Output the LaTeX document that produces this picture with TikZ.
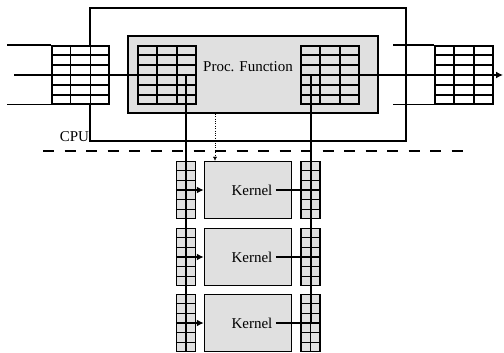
\documentclass[tikz,border=0pt]{standalone}
\usepackage{fontspec}
\setmainfont{Liberation Serif}
\usepackage{tikz}
\usetikzlibrary{arrows.meta,calc}

\definecolor{boxgray}{gray}{0.88}

\tikzset{
  buffer/.style={draw, line width=1.5pt, inner sep=0pt},
  gridline/.style={line width=1.4pt},
  wire/.style={line width=1.5pt},
  label/.style={font=\fontsize{15}{18}\selectfont},
}

% buffer grid: name, x, y, width, height, column fractions, fill
\newcommand{\bufgrid}[7]{%
  \node[buffer, fill=#7, minimum width=#4, minimum height=#5] (#1) at (#2,#3) {};
  \foreach \r in {1,...,5}
    \draw[gridline] ($(#1.north west)!\r/6!(#1.south west)$) -- ($(#1.north east)!\r/6!(#1.south east)$);
  \foreach \c in {#6}
    \draw[gridline] ($(#1.north west)!\c!(#1.north east)$) -- ($(#1.south west)!\c!(#1.south east)$);
}

\begin{document}
\begin{tikzpicture}[x=1pt,y=-1pt]
\useasboundingbox (0,0) rectangle (504,353);

% CPU box
\node[draw, line width=1.5pt, minimum width=316pt, minimum height=133pt] (cpu) at (248,74.5) {};
\node[label, anchor=base east, inner sep=0pt] (cpul) at (cpu.south west) {CPU};

% Proc. Function box with its two buffers
\node[draw, line width=1.5pt, fill=boxgray, minimum width=250pt, minimum height=77pt] (proc) at (253,74.5) {};
\node[label] (procl) at (248,67) {Proc. Function};
\bufgrid{pin}{167}{75}{58pt}{58pt}{1/3,2/3}{boxgray}
\bufgrid{pout}{330}{75}{58pt}{58pt}{1/3,2/3}{boxgray}

% input and output queues
\bufgrid{qin}{80.5}{75}{57pt}{58pt}{1/3,2/3}{white}
\bufgrid{qout}{464}{75}{58pt}{58pt}{1/3,2/3}{white}
\draw[wire] (qin.north west) -- ++(-44,0);
\draw[wire] (qin.south west) -- ++(-44,0);
\draw[wire] (qout.north west) -- ++(-41,0);
\draw[wire] (qout.south west) -- ++(-41,0);

% host / device border
\draw[line width=1.5pt, dash pattern=on 11pt off 10.5pt] (43,151) -- (464,151);

% kernels
\foreach \k/\y in {1/190, 2/257, 3/323}{
  \node[draw, line width=1.5pt, fill=boxgray, minimum width=87pt, minimum height=57pt] (k\k) at (248,\y) {};
  \node[label] (k\k t) at (252,\y) {Kernel};
  \bufgrid{kin\k}{186}{\y}{19pt}{57pt}{1/2}{boxgray}
  \bufgrid{kout\k}{310.5}{\y}{19pt}{57pt}{1/2}{boxgray}
}

% data path
\coordinate (src) at (14,75);
\coordinate (lbus) at (186,323);
\coordinate (rbus) at (311,323);
\coordinate (dst) at (503,75);
\draw[wire] (src) -- (src -| lbus) -- (lbus);
\draw[wire, -{Latex[length=7pt,width=7pt]}] (rbus) -- (rbus |- dst) -- (dst);
\foreach \k in {1,2,3}{
  \draw[wire, -{Latex[length=7pt,width=7pt]}] (lbus |- k\k) -- (k\k.west);
  \draw[wire] (k\k t.east) -- (rbus |- k\k);
}

% launch
\coordinate (lnch) at (215,0);
\draw[dotted, -{Latex[length=4pt,width=4pt]}] (proc.south -| lnch) -- (k1.north -| lnch);

\end{tikzpicture}
\end{document}
